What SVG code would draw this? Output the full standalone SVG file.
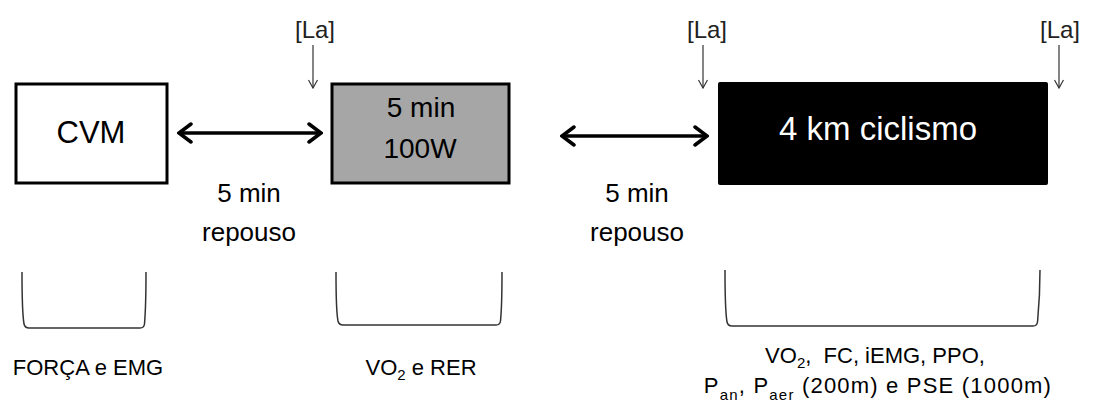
<svg xmlns="http://www.w3.org/2000/svg" width="1112" height="414" viewBox="0 0 1112 414">
<style>
text{font-family:"Liberation Sans",Arial,sans-serif;fill:#000}
.box{stroke:#000;stroke-width:3}
.bk{fill:none;stroke:#333;stroke-width:1.5}
.dbl{fill:none;stroke:#000;stroke-width:3.5}
.thin{fill:none;stroke:#333;stroke-width:1.2}
.lbl{font-size:26px;text-anchor:middle}
.la{font-size:24px;text-anchor:middle;fill:#222}
.meas{font-size:22px;text-anchor:middle}
.sub{font-size:15px}
</style>
<defs>
<marker id="head" viewBox="0 0 16 22" refX="14" refY="11" markerWidth="16" markerHeight="22" markerUnits="userSpaceOnUse" orient="auto-start-reverse">
<path d="M2,2 L14,11 L2,20" fill="none" stroke="#000" stroke-width="3.5" stroke-linecap="round" stroke-linejoin="miter"/>
</marker>
<marker id="small" viewBox="0 0 10 10" refX="9" refY="5" markerWidth="10" markerHeight="10" markerUnits="userSpaceOnUse" orient="auto">
<path d="M1,0.5 L9,5 L1,9.5" fill="none" stroke="#333" stroke-width="1.2"/>
</marker>
</defs>
<g id="cvm">
<rect class="box" x="16" y="84" width="151" height="99" fill="#fff"/>
<text x="91" y="143" style="font-size:31px;text-anchor:middle">CVM</text>
</g>
<g id="warmup">
<rect class="box" x="332" y="84" width="177" height="99" fill="#a6a6a6"/>
<text x="421" y="117" style="font-size:28px;text-anchor:middle">5 min</text>
<text x="420" y="158" style="font-size:28px;text-anchor:middle">100W</text>
</g>
<g id="cycling">
<rect x="718" y="82" width="330" height="103" rx="2" fill="#000"/>
<text x="878" y="140" style="font-size:33px;text-anchor:middle;fill:#fff">4 km ciclismo</text>
</g>
<g id="rest1">
<text class="lbl" x="249" y="202">5 min</text>
<text class="lbl" x="249" y="241">repouso</text>
</g>
<g id="rest2">
<text class="lbl" x="637" y="202">5 min</text>
<text class="lbl" x="637" y="241">repouso</text>
</g>
<g id="la1"><text class="la" x="315" y="38">[La]</text></g>
<g id="la2"><text class="la" x="707" y="38">[La]</text></g>
<g id="la3"><text class="la" x="1060" y="38">[La]</text></g>
<g id="connectors">
<line class="dbl" x1="179" y1="133" x2="321" y2="133" marker-start="url(#head)" marker-end="url(#head)"/>
<line class="dbl" x1="562" y1="136" x2="707" y2="136" marker-start="url(#head)" marker-end="url(#head)"/>
<line class="thin" x1="313" y1="45" x2="313" y2="88" marker-end="url(#small)"/>
<line class="thin" x1="703" y1="45" x2="703" y2="88" marker-end="url(#small)"/>
<line class="thin" x1="1059" y1="45" x2="1059" y2="88" marker-end="url(#small)"/>
</g>
<g id="bracket1">
<path class="bk" d="M22,272 C22,300 23,318 24,324 Q25,328 29,328 L140,328 Q144,328 144.5,324 C145,318 146,300 146,272"/>
<text class="meas" x="88" y="375">FORÇA e EMG</text>
</g>
<g id="bracket2">
<path class="bk" d="M336,272 C336,298 337,316 338,321 Q339,325 343,325 L496,325 Q500,325 500.5,321 C501,316 502,298 502,272"/>
<text class="meas" x="421" y="375">VO<tspan class="sub" dy="5">2</tspan><tspan dy="-5"> e RER</tspan></text>
</g>
<g id="bracket3">
<path class="bk" d="M725,270 C725,298 726,316 727,322 Q728,326 732,326 L1033,326 Q1037,326 1037.5,322 C1038,316 1040,298 1040,270"/>
<text class="meas" x="875" y="363" xml:space="preserve">VO<tspan class="sub" dy="5">2</tspan><tspan dy="-5">,  FC, iEMG, PPO,</tspan></text>
<text class="meas" x="878" y="393" style="letter-spacing:1.2px">P<tspan class="sub" dy="7">an</tspan><tspan dy="-7">, P</tspan><tspan class="sub" dy="7">aer</tspan><tspan dy="-7"> (200m) e PSE (1000m)</tspan></text>
</g>
</svg>
